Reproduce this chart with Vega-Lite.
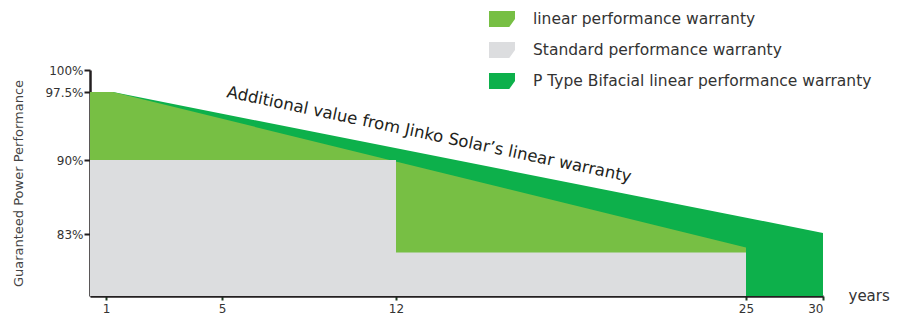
{
  "$schema": "https://vega.github.io/schema/vega-lite/v6.json",
  "width": 733,
  "height": 226,
  "autosize": {"type": "none"},
  "padding": {"left": 90, "top": 70, "right": 81, "bottom": 20},
  "background": "white",
  "config": {"view": {"stroke": null}, "font": "DejaVu Sans"},
  "data": {
    "values": [
      {"series": "P Type Bifacial linear performance warranty", "year": 1.24, "value": 97.5},
      {"series": "P Type Bifacial linear performance warranty", "year": 30, "value": 83.1},
      {"series": "linear performance warranty", "year": 0, "value": 97.5},
      {"series": "linear performance warranty", "year": 1.24, "value": 97.5},
      {"series": "linear performance warranty", "year": 25, "value": 81.7},
      {"series": "Standard performance warranty", "year": 0, "value": 90},
      {"series": "Standard performance warranty", "year": 12, "value": 90},
      {"series": "Standard performance warranty", "year": 12, "value": 81.2},
      {"series": "Standard performance warranty", "year": 25, "value": 81.2}
    ]
  },
  "encoding": {
    "x": {
      "field": "year",
      "type": "quantitative",
      "scale": {"domain": [0, 1, 5, 12, 25, 30], "range": [0, 16, 132, 306, 656, 733], "nice": false, "zero": false},
      "axis": {
        "values": [1, 5, 12, 25, 30],
        "title": "years",
        "titleX": 758,
        "titleY": 4,
        "titleAlign": "left",
        "titleBaseline": "alphabetic",
        "titleFontSize": 15,
        "titleFontWeight": "normal",
        "titleColor": "#333333",
        "domainColor": "#231F20",
        "domainWidth": 2.5,
        "tickColor": "#1E3A22",
        "tickWidth": 2,
        "tickSize": 4,
        "labelFontSize": 12,
        "labelColor": "#333333",
        "labelPadding": 3,
        "grid": false
      }
    },
    "y": {
      "field": "value",
      "type": "quantitative",
      "stack": null,
      "scale": {"domain": [77, 83, 90, 97.5, 100], "range": [226, 164, 90, 22, 0], "nice": false, "zero": false},
      "axis": {
        "values": [83, 90, 97.5, 100],
        "labelExpr": "datum.value + '%'",
        "title": "Guaranteed Power Performance",
        "titleX": -72,
        "titleY": 113,
        "titleAngle": -90,
        "titleAlign": "center",
        "titleBaseline": "middle",
        "titleFontSize": 13,
        "titleFontWeight": "normal",
        "titleColor": "#444444",
        "domainColor": "#231F20",
        "domainWidth": 2.5,
        "tickColor": "#231F20",
        "tickWidth": 2,
        "tickSize": 6,
        "labelFontSize": 12,
        "labelColor": "#333333",
        "labelPadding": 1,
        "grid": false
      }
    },
    "color": {
      "field": "series",
      "type": "nominal",
      "scale": {
        "domain": ["linear performance warranty", "Standard performance warranty", "P Type Bifacial linear performance warranty"],
        "range": ["#77BF44", "#DCDDDF", "#0DB04B"]
      },
      "legend": {
        "title": null,
        "orient": "none",
        "legendX": 399,
        "legendY": -64,
        "padding": 0,
        "symbolType": "M-1,-0.615L1,-0.615L1,0L0.56,0.615L-1,0.615Z",
        "symbolSize": 676,
        "symbolStrokeWidth": 0,
        "symbolOpacity": 1,
        "rowPadding": 9,
        "labelOffset": 18,
        "labelFontSize": 15.5,
        "labelColor": "#333333",
        "labelLimit": 500
      }
    }
  },
  "layer": [
    {
      "transform": [{"filter": "datum.series == 'P Type Bifacial linear performance warranty'"}],
      "mark": {"type": "area", "opacity": 1},
      "encoding": {"y2": {"datum": 77}}
    },
    {
      "transform": [{"filter": "datum.series == 'linear performance warranty'"}],
      "mark": {"type": "area", "opacity": 1},
      "encoding": {"y2": {"datum": 77}}
    },
    {
      "transform": [{"filter": "datum.series == 'Standard performance warranty'"}],
      "mark": {"type": "area", "opacity": 1},
      "encoding": {"y2": {"datum": 77}}
    },
    {
      "data": {"values": [{"label": "Additional value from Jinko Solar’s linear warranty", "year": 13.19, "value": 92.25}]},
      "mark": {"type": "text", "angle": 11.9, "align": "center", "baseline": "alphabetic", "fontSize": 16.5},
      "encoding": {
        "text": {"field": "label"},
        "color": {"value": "#231F20"}
      }
    }
  ]
}
